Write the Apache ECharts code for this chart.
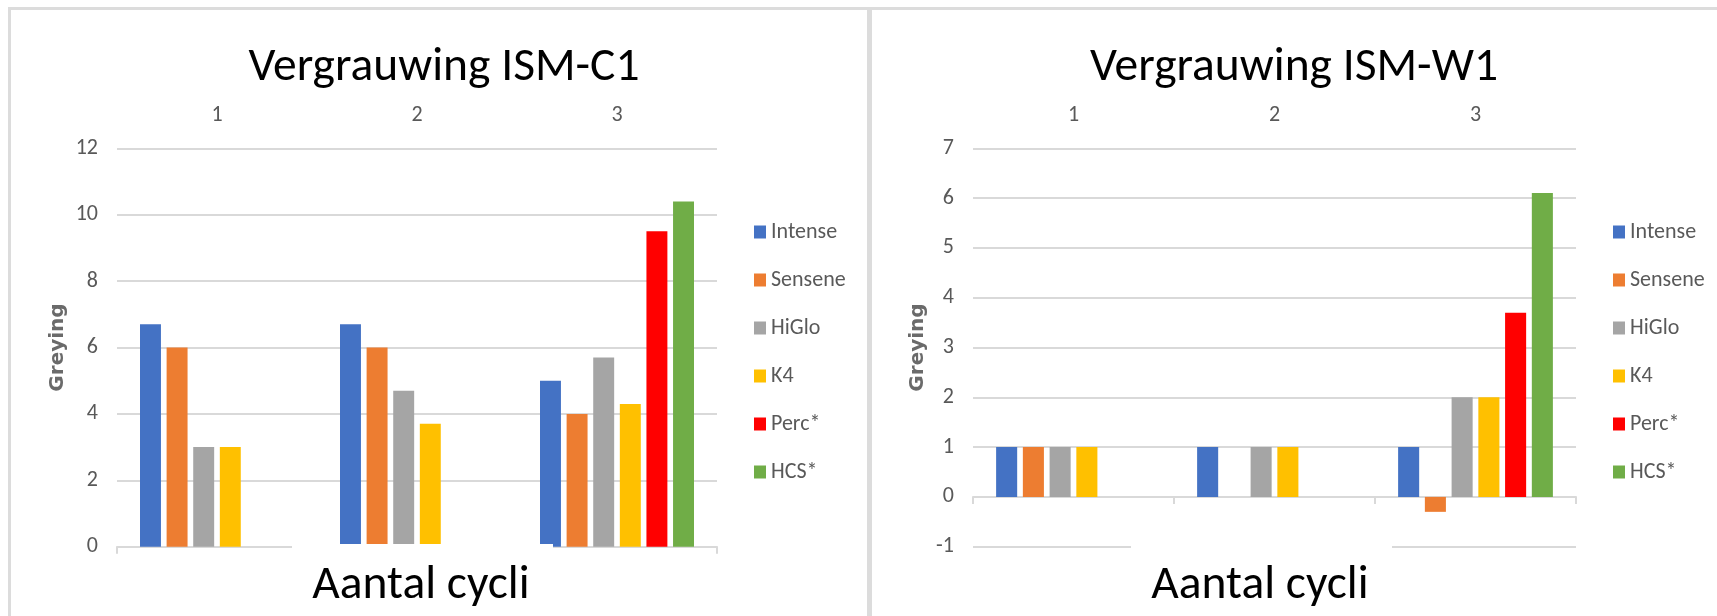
<!DOCTYPE html>
<html>
<head>
<meta charset="utf-8">
<script src="https://cdn.jsdelivr.net/npm/echarts@6/dist/echarts.min.js"></script>
<style>
html,body{margin:0;padding:0;background:#fff;}
#chart{width:1717px;height:616px;}
</style>
</head>
<body>
<div id="chart"></div>
<script>
// ---- data ----
const categories = ['1', '2', '3'];
const seriesNames = ['Intense', 'Sensene', 'HiGlo', 'K4', 'Perc*', 'HCS*'];
const seriesColors = ['#4472C4', '#ED7D31', '#A5A5A5', '#FFC000', '#FF0000', '#70AD47'];

// Vergrauwing ISM-C1
const intenseC1 = [6.7, 6.7, 5.0];
const senseneC1 = [6.0, 6.0, 4.0];
const higloC1   = [3.0, 4.7, 5.7];
const k4C1      = [3.0, 3.7, 4.3];
const percC1    = [null, null, 9.5];
const hcsC1     = [null, null, 10.4];

// Vergrauwing ISM-W1
const intenseW1 = [1, 1, 1];
const senseneW1 = [1, null, -0.3];
const higloW1   = [1, 1, 2];
const k4W1      = [1, 1, 2];
const percW1    = [null, null, 3.7];
const hcsW1     = [null, null, 6.1];

const yTicksC1 = [0, 2, 4, 6, 8, 10, 12];
const yTicksW1 = [-1, 0, 1, 2, 3, 4, 5, 6, 7];

const titleC1 = 'Vergrauwing ISM-C1';
const titleW1 = 'Vergrauwing ISM-W1';
const xTitle = 'Aantal cycli';
const yTitle = 'Greying';

// ---- styling ----
const labelFont = "'Carlito','Lato',sans-serif";
const titleFont = "'Carlito','Lato',sans-serif";
const gray = '#595959';
const gridGray = '#d9d9d9';

const dataC1 = [intenseC1, senseneC1, higloC1, k4C1, percC1, hcsC1];
const dataW1 = [intenseW1, senseneW1, higloW1, k4W1, percW1, hcsW1];

function yAxisFor(gridIndex, ticks, nameGap) {
  return {
    type: 'value', gridIndex: gridIndex,
    min: ticks[0], max: ticks[ticks.length - 1], interval: ticks[1] - ticks[0],
    axisLine: { show: false }, axisTick: { show: false },
    axisLabel: { fontSize: 22, color: gray, margin: 19, fontFamily: labelFont },
    splitLine: { show: true, lineStyle: { color: gridGray, width: 2 } },
    name: yTitle, nameLocation: 'middle', nameRotate: 90, nameGap: nameGap,
    nameTextStyle: { fontSize: 20, fontWeight: 'bold', color: '#6a6a6a', fontFamily: "'DejaVu Sans',sans-serif" }
  };
}
function topAxis(gridIndex) {
  return {
    type: 'category', gridIndex: gridIndex, position: 'top', data: categories,
    axisLine: { show: false, onZero: false }, axisTick: { show: false },
    axisLabel: { fontSize: 22, color: gray, margin: 22, fontFamily: labelFont },
    splitLine: { show: false }
  };
}
function bottomAxis(gridIndex) {
  return {
    type: 'category', gridIndex: gridIndex, position: 'bottom', data: categories,
    axisLine: { show: true, onZero: true, lineStyle: { color: gridGray, width: 2 } },
    axisTick: { show: true, length: 7, alignWithLabel: false, lineStyle: { color: gridGray, width: 2 } },
    axisLabel: { show: false }, splitLine: { show: false }
  };
}

const series = [];
seriesNames.forEach(function (name, i) {
  series.push({
    type: 'bar', name: name, xAxisIndex: 0, yAxisIndex: 0, data: dataC1[i],
    itemStyle: { color: seriesColors[i] }, barGap: '27%', barCategoryGap: '23%'
  });
});
seriesNames.forEach(function (name, i) {
  series.push({
    type: 'bar', name: name, xAxisIndex: 2, yAxisIndex: 1, data: dataW1[i],
    itemStyle: { color: seriesColors[i] }, barGap: '27%', barCategoryGap: '23%'
  });
});

function legendAt(left) {
  return {
    orient: 'vertical', left: left, top: 220, padding: 0,
    itemWidth: 12, itemHeight: 13, itemGap: 24, icon: 'rect',
    textStyle: { fontSize: 22, color: gray, fontFamily: labelFont, lineHeight: 24 },
    data: seriesNames
  };
}

const option = {
  backgroundColor: '#ffffff',
  animation: false,
  title: [
    { text: titleC1, left: 444, top: 44, textAlign: 'center', padding: 0,
      textStyle: { fontSize: 47.5, fontWeight: 'normal', color: '#000', fontFamily: titleFont } },
    { text: titleW1, left: 1294, top: 44, textAlign: 'center', padding: 0,
      textStyle: { fontSize: 47.5, fontWeight: 'normal', color: '#000', fontFamily: titleFont } },
    { text: xTitle, left: 421, top: 562, textAlign: 'center', padding: 0, z: 200,
      textStyle: { fontSize: 47.5, fontWeight: 'normal', color: '#000', fontFamily: titleFont } },
    { text: xTitle, left: 1260, top: 562, textAlign: 'center', padding: 0, z: 200,
      textStyle: { fontSize: 47.5, fontWeight: 'normal', color: '#000', fontFamily: titleFont } }
  ],
  legend: [legendAt(754), legendAt(1613)],
  grid: [
    { left: 117, top: 148.3, width: 600, height: 398.4, containLabel: false },
    { left: 973, top: 148.3, width: 603, height: 398.4, containLabel: false }
  ],
  xAxis: [topAxis(0), bottomAxis(0), topAxis(1), bottomAxis(1)],
  yAxis: [yAxisFor(0, yTicksC1, 49), yAxisFor(1, yTicksW1, 45)],
  graphic: [
    { type: 'rect', silent: true, z: -10, shape: { x: 8, y: 7, width: 1709, height: 3 }, style: { fill: '#dcdcdc' } },
    { type: 'rect', silent: true, z: -10, shape: { x: 8, y: 7, width: 3, height: 609 }, style: { fill: '#dcdcdc' } },
    { type: 'rect', silent: true, z: -10, shape: { x: 867, y: 7, width: 5, height: 609 }, style: { fill: '#dcdcdc' } },
    { type: 'rect', silent: true, z: 100, shape: { x: 292, y: 544, width: 261, height: 72 }, style: { fill: '#ffffff' } },
    { type: 'rect', silent: true, z: 100, shape: { x: 1131, y: 544, width: 261, height: 72 }, style: { fill: '#ffffff' } }
  ],
  series: series
};

const chart = echarts.init(document.getElementById('chart'), null, { renderer: 'canvas' });
chart.setOption(option);
</script>
</body>
</html>
